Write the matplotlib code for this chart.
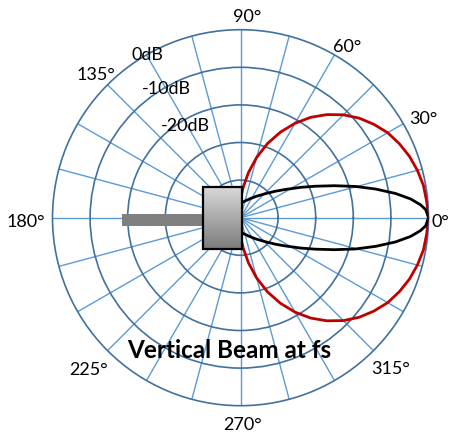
import numpy as np
import matplotlib
matplotlib.use("Agg")
import matplotlib.pyplot as plt
from matplotlib.patches import Rectangle
from matplotlib.colors import LinearSegmentedColormap

plt.rcParams['font.family'] = ['Lato', 'DejaVu Sans']

# ---- data (dB) ----
wide_angles = [-90, -85, -80, -75, -70, -65, -60, -55, -50, -45, -40, -35, -30, -25, -20, -15, -10, -5,
               0, 5, 10, 15, 20, 25, 30, 35, 40, 45, 50, 55, 60, 65, 70, 75, 80, 85, 90]
wide_beam_db = [-45.1, -41.9, -37.8, -33.4, -29.0, -24.9, -21.0, -17.4, -14.2, -11.3, -8.8, -6.7, -4.8, -3.4, -2.2, -1.3, -0.6, -0.3,
                0.0, -0.3, -0.6, -1.3, -2.2, -3.4, -4.8, -6.7, -8.8, -11.3, -14.2, -17.4, -21.0, -24.9, -29.0, -33.4, -37.8, -41.9, -45.1]
narrow_angles = [-90, -79.4, -66.5, -54.6, -44.0, -37.1, -32.2, -26.8, -22.8, -18.8, -15.2, -12.0, -8.9, -6.3, -4.1, -2.5,
                 0, 2.5, 4.1, 6.3, 8.9, 12.0, 15.2, 18.8, 22.8, 26.8, 32.2, 37.1, 44.0, 54.6, 66.5, 79.4, 90]
narrow_beam_db = [-46.2, -45.7, -44.7, -43.1, -40.8, -38.3, -35.9, -32.1, -28.4, -23.6, -18.3, -13.3, -8.3, -4.5, -2.0, -0.7,
                  0.0, -0.7, -2.0, -4.5, -8.3, -13.3, -18.3, -23.6, -28.4, -32.1, -35.9, -38.3, -40.8, -43.1, -44.7, -45.7, -46.2]
ring_db = [-40, -30, -20, -10]
db_labels = ['0dB', '-10dB', '-20dB']
angle_labels = ['0°', '30°', '60°', '90°', '135°', '180°', '225°', '270°', '315°']
title = 'Vertical Beam at fs'

W, H = 451, 435
fig = plt.figure(figsize=(W / 100, H / 100), dpi=100)
cx, cy, R = 240.5, 218.7, 188.0
ax = fig.add_axes([(cx - R) / W, (H - cy - R) / H, 2 * R / W, 2 * R / H], projection='polar')

ax.set_rlim(-50, 0)
ax.set_rgrids(ring_db, labels=[''] * len(ring_db))
ax.set_thetagrids(np.arange(0, 360, 15), labels=[''] * 24)
ax.tick_params(length=0)
ax.xaxis.grid(True, color='#5b9bd5', lw=1.0)
ax.yaxis.grid(True, color='#41719c', lw=1.2)
ax.spines['polar'].set_color('#41719c')
ax.spines['polar'].set_linewidth(1.2)

ax.plot(np.deg2rad(wide_angles), wide_beam_db, color='#c00000', lw=2.0, zorder=3)
ax.plot(np.deg2rad(narrow_angles), narrow_beam_db, color='black', lw=2.0, zorder=3)

# ---- overlay in pixel coordinates ----
ov = fig.add_axes([0, 0, 1, 1], zorder=5)
ov.patch.set_alpha(0)
ov.axis('off')

ov.add_patch(Rectangle((122, 215), 81, 12, fc='#808080', ec='none', zorder=2))
grad = np.linspace(0, 1, 100).reshape(-1, 1)
cmap = LinearSegmentedColormap.from_list('g', ['#d8d8d8', '#7c7c7c'])
ov.imshow(grad, cmap=cmap, extent=[203, 241.5, 250, 188], origin='upper', aspect='auto', zorder=3)
ov.add_patch(Rectangle((203, 188), 38.5, 62, fill=False, ec='black', lw=1.6, zorder=4))
ov.set_xlim(0, W)
ov.set_ylim(H, 0)

fs = 13
lab_pos = {
    '0°': (432, 227, 'left'),
    '30°': (423.5, 124, 'center'),
    '60°': (347.5, 52, 'center'),
    '90°': (247, 22.5, 'center'),
    '135°': (96, 80, 'center'),
    '180°': (26, 227, 'center'),
    '225°': (89, 375, 'center'),
    '270°': (242.5, 430, 'center'),
    '315°': (390.5, 374, 'center'),
}
for lab in angle_labels:
    x, y, ha = lab_pos[lab]
    ov.text(x, y, lab, ha=ha, va='baseline', fontsize=fs, color='black', zorder=6)

db_pos = [(147, 60), (166, 94), (185, 131)]
for lab, (x, y) in zip(db_labels, db_pos):
    ov.text(x, y, lab, ha='center', va='baseline', fontsize=fs, color='black', zorder=6)

ov.text(229, 358, title, ha='center', va='baseline', fontsize=17.5, fontweight='bold', color='black', zorder=6)

fig.savefig('out.png', dpi=100)
